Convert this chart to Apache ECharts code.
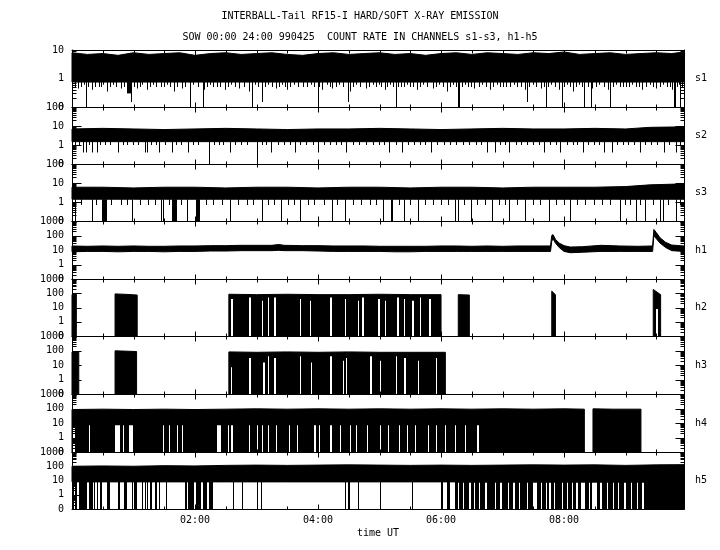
<!DOCTYPE html>
<html>
<head>
<meta charset="utf-8">
<script src="https://cdn.jsdelivr.net/npm/echarts@6/dist/echarts.min.js"></script>
<style>
  html, body { margin: 0; padding: 0; background: #fff; }
  #chart { width: 720px; height: 550px; }
</style>
</head>
<body>
<div id="chart"></div>
<script>
// time axis in hours UT, count rates in counts/s (0 is drawn one decade under 1)
const tMax = 9.95;
const channels = ['s1', 's2', 's3', 'h1', 'h2', 'h3', 'h4', 'h5'];
const topDecade = [1, 2, 2, 3, 3, 3, 3, 3]; // 10, 100, 100, 1000 ...

// band blocks: [t, low, high]
const s1Band = [[
  [0, 0.75, 8], [0.25, 0.75, 7], [0.5, 0.75, 7.5], [0.75, 0.75, 6.5], [1, 0.75, 8], [1.25, 0.75, 7],
  [1.5, 0.75, 7.5], [1.75, 0.75, 8], [2, 0.75, 6.5], [2.25, 0.75, 7.5], [2.5, 0.75, 8], [2.75, 0.75, 7],
  [3, 0.75, 7.5], [3.25, 0.75, 8], [3.5, 0.75, 7], [3.75, 0.75, 6.5], [4, 0.75, 7.5], [4.25, 0.75, 8],
  [4.5, 0.75, 7], [4.75, 0.75, 7.5], [5, 0.75, 8], [5.25, 0.75, 7], [5.5, 0.75, 7.5], [5.75, 0.75, 6.5],
  [6, 0.75, 7.5], [6.25, 0.75, 8], [6.5, 0.75, 7], [6.75, 0.75, 8], [7, 0.75, 7.5], [7.25, 0.75, 7],
  [7.5, 0.75, 8], [7.75, 0.75, 7.5], [8, 0.75, 8.5], [8.25, 0.75, 7], [8.5, 0.75, 7.5], [8.75, 0.75, 8],
  [9, 0.75, 7], [9.25, 0.75, 7.5], [9.5, 0.75, 8], [9.75, 0.75, 7.5], [9.95, 0.75, 8.5]
]];
// drops under the band: [t0, t1, low]
const s1Drops = [
  [0.10, 0.10, 0.45], [0.20, 0.20, 0.6], [0.33, 0.33, 0.4], [0.44, 0.44, 0.5], [0.52, 0.52, 0.6], [0.57, 0.57, 0.35],
  [0.68, 0.68, 0.6], [0.80, 0.80, 0.45], [0.91, 0.96, 0.3], [1.07, 1.07, 0.45], [1.15, 1.15, 0.6], [1.22, 1.22, 0.4],
  [1.32, 1.32, 0.6], [1.46, 1.46, 0.5], [1.55, 1.55, 0.6], [1.66, 1.66, 0.35], [1.79, 1.79, 0.45], [1.98, 1.98, 0.6],
  [2.16, 2.16, 0.4], [2.25, 2.25, 0.6], [2.36, 2.36, 0.5], [2.50, 2.50, 0.4], [2.60, 2.60, 0.6], [2.73, 2.73, 0.45],
  [2.88, 2.88, 0.35], [2.98, 2.98, 0.6], [3.09, 3.11, 0.3], [3.20, 3.20, 0.6], [3.32, 3.32, 0.45], [3.42, 3.42, 0.6],
  [3.51, 3.51, 0.4], [3.62, 3.62, 0.6], [3.77, 3.77, 0.5], [3.90, 3.90, 0.6], [4.08, 4.08, 0.4], [4.15, 4.15, 0.6],
  [4.24, 4.24, 0.45], [4.35, 4.35, 0.6], [4.52, 4.52, 0.35], [4.62, 4.62, 0.6], [4.78, 4.78, 0.45], [4.90, 4.90, 0.6],
  [5.00, 5.00, 0.6], [5.09, 5.09, 0.4], [5.18, 5.18, 0.6], [5.35, 5.35, 0.5], [5.45, 5.45, 0.6], [5.61, 5.61, 0.4],
  [5.72, 5.72, 0.6], [5.87, 5.87, 0.45], [5.97, 5.97, 0.6], [6.10, 6.10, 0.35], [6.20, 6.20, 0.6], [6.40, 6.40, 0.6],
  [6.55, 6.55, 0.45], [6.68, 6.68, 0.6], [6.81, 6.81, 0.4], [6.92, 6.92, 0.6], [7.07, 7.07, 0.5], [7.20, 7.20, 0.6],
  [7.37, 7.37, 0.4], [7.50, 7.50, 0.6], [7.63, 7.63, 0.45], [7.80, 7.80, 0.6], [7.93, 7.93, 0.4], [8.05, 8.05, 0.6],
  [8.16, 8.16, 0.35], [8.25, 8.25, 0.6], [8.46, 8.46, 0.45], [8.58, 8.58, 0.6], [8.72, 8.72, 0.4], [8.85, 8.85, 0.6],
  [9.02, 9.02, 0.5], [9.12, 9.12, 0.6], [9.28, 9.28, 0.4], [9.40, 9.40, 0.6], [9.51, 9.51, 0.45], [9.62, 9.62, 0.6],
  [9.77, 9.77, 0.4], [9.88, 9.88, 0.6],
  [0.05, 0.05, 0.5], [0.15, 0.15, 0.5], [0.27, 0.27, 0.5], [0.38, 0.38, 0.5], [0.48, 0.48, 0.5], [0.62, 0.62, 0.5],
  [0.73, 0.73, 0.5], [0.86, 0.86, 0.5], [1.02, 1.02, 0.5], [1.11, 1.11, 0.5], [1.27, 1.27, 0.5], [1.38, 1.38, 0.5],
  [1.50, 1.50, 0.5], [1.60, 1.60, 0.5], [1.72, 1.72, 0.5], [1.85, 1.85, 0.5], [2.05, 2.05, 0.5], [2.20, 2.20, 0.5],
  [2.30, 2.30, 0.5], [2.42, 2.42, 0.5], [2.55, 2.55, 0.5], [2.66, 2.66, 0.5], [2.80, 2.80, 0.5], [3.03, 3.03, 0.5],
  [3.15, 3.15, 0.5], [3.26, 3.26, 0.5], [3.37, 3.37, 0.5], [3.47, 3.47, 0.5], [3.56, 3.56, 0.5], [3.68, 3.68, 0.5],
  [3.83, 3.83, 0.5], [3.95, 3.95, 0.5], [4.03, 4.03, 0.5], [4.20, 4.20, 0.5], [4.30, 4.30, 0.5], [4.41, 4.41, 0.5],
  [4.57, 4.57, 0.5], [4.69, 4.69, 0.5], [4.84, 4.84, 0.5], [4.95, 4.95, 0.5], [5.04, 5.04, 0.5], [5.13, 5.13, 0.5],
  [5.23, 5.23, 0.5], [5.31, 5.31, 0.5], [5.40, 5.40, 0.5], [5.50, 5.50, 0.5], [5.56, 5.56, 0.5], [5.66, 5.66, 0.5],
  [5.78, 5.78, 0.5], [5.92, 5.92, 0.5], [6.04, 6.04, 0.5], [6.15, 6.15, 0.5], [6.25, 6.25, 0.5], [6.35, 6.35, 0.5],
  [6.45, 6.45, 0.5], [6.50, 6.50, 0.5], [6.62, 6.62, 0.5], [6.74, 6.74, 0.5], [6.86, 6.86, 0.5], [6.97, 6.97, 0.5],
  [7.02, 7.02, 0.5], [7.13, 7.13, 0.5], [7.25, 7.25, 0.5], [7.31, 7.31, 0.5], [7.44, 7.44, 0.5], [7.56, 7.56, 0.5],
  [7.68, 7.68, 0.5], [7.75, 7.75, 0.5], [7.86, 7.86, 0.5], [8.00, 8.00, 0.5], [8.10, 8.10, 0.5], [8.21, 8.21, 0.5],
  [8.30, 8.30, 0.5], [8.39, 8.39, 0.5], [8.52, 8.52, 0.5], [8.65, 8.65, 0.5], [8.80, 8.80, 0.5], [8.92, 8.92, 0.5],
  [8.97, 8.97, 0.5], [9.07, 9.07, 0.5], [9.18, 9.18, 0.5], [9.23, 9.23, 0.5], [9.34, 9.34, 0.5], [9.45, 9.45, 0.5],
  [9.57, 9.57, 0.5], [9.68, 9.68, 0.5], [9.73, 9.73, 0.5], [9.84, 9.84, 0.5], [9.92, 9.92, 0.5],
  [0.24, 0.24, 0], [1.92, 1.92, 0], [2.13, 2.15, 0], [2.93, 2.93, 0], [4.00, 4.00, 0], [5.27, 5.27, 0],
  [6.29, 6.31, 0], [7.71, 7.71, 0], [7.97, 7.97, 0], [8.34, 8.34, 0], [8.44, 8.44, 0], [8.76, 8.76, 0],
  [9.79, 9.82, 0], [9.89, 9.89, 0], [0.96, 0.96, 0.15], [3.09, 3.09, 0.15], [4.50, 4.50, 0.15], [7.40, 7.40, 0.15]
];

const s2Band = [[
  [0, 1.5, 7], [0.5, 1.5, 7.5], [1, 1.5, 7], [1.5, 1.5, 6.5], [2, 1.5, 7], [2.5, 1.5, 7.5], [3, 1.5, 7],
  [3.5, 1.5, 6.5], [4, 1.5, 7], [4.5, 1.5, 7], [5, 1.5, 7.5], [5.5, 1.5, 7], [6, 1.5, 6.5], [6.5, 1.5, 7],
  [7, 1.5, 7.5], [7.5, 1.5, 7], [8, 1.5, 7], [8.5, 1.5, 7.5], [9, 1.5, 7], [9.4, 1.5, 8.5], [9.95, 1.5, 9]
]];
const s2Drops = [
  [0.05, 0.05, 1], [0.12, 0.12, 1], [0.28, 0.28, 1], [0.47, 0.47, 1], [0.55, 0.55, 1], [0.62, 0.62, 1],
  [0.83, 0.83, 1], [0.90, 0.90, 1], [1.00, 1.00, 1], [1.08, 1.08, 1], [1.30, 1.30, 1], [1.37, 1.37, 1],
  [1.52, 1.52, 1], [1.70, 1.70, 1], [1.78, 1.78, 1], [1.97, 1.97, 1], [2.05, 2.05, 1], [2.31, 2.31, 1],
  [2.40, 2.40, 1], [2.47, 2.47, 1], [2.66, 2.66, 1], [2.75, 2.75, 1], [2.85, 2.85, 1], [3.10, 3.10, 1],
  [3.17, 3.17, 1], [3.35, 3.35, 1], [3.45, 3.45, 1], [3.55, 3.55, 1], [3.72, 3.72, 1], [3.82, 3.82, 1],
  [3.92, 3.92, 1], [4.10, 4.10, 1], [4.20, 4.20, 1], [4.30, 4.30, 1], [4.38, 4.38, 1], [4.58, 4.58, 1],
  [4.68, 4.68, 1], [4.78, 4.78, 1], [4.90, 4.90, 1], [5.00, 5.00, 1], [5.08, 5.08, 1], [5.28, 5.28, 1],
  [5.47, 5.47, 1], [5.57, 5.57, 1], [5.66, 5.66, 1], [5.75, 5.75, 1], [5.95, 5.95, 1], [6.05, 6.05, 1],
  [6.15, 6.15, 1], [6.25, 6.25, 1], [6.36, 6.36, 1], [6.47, 6.47, 1], [6.57, 6.57, 1], [6.66, 6.66, 1],
  [6.97, 6.97, 1], [7.05, 7.05, 1], [7.22, 7.22, 1], [7.31, 7.31, 1], [7.40, 7.40, 1], [7.50, 7.50, 1],
  [7.60, 7.60, 1], [7.78, 7.78, 1], [7.87, 7.87, 1], [8.05, 8.05, 1], [8.15, 8.15, 1], [8.22, 8.22, 1],
  [8.40, 8.40, 1], [8.50, 8.50, 1], [8.58, 8.58, 1], [8.87, 8.87, 1], [8.96, 8.96, 1], [9.05, 9.05, 1],
  [9.15, 9.15, 1], [9.33, 9.33, 1], [9.42, 9.42, 1], [9.52, 9.52, 1], [9.72, 9.72, 1], [9.90, 9.90, 1],
  [0.18, 0.18, 0.4], [0.24, 0.24, 0.4], [0.34, 0.34, 0.4], [0.41, 0.41, 0.4], [0.75, 0.75, 0.4], [1.19, 1.19, 0.4],
  [1.22, 1.22, 0.4], [1.43, 1.43, 0.4], [1.64, 1.64, 0.4], [1.89, 1.89, 0.4], [2.57, 2.57, 0.4], [3.25, 3.25, 0.4],
  [3.63, 3.63, 0.4], [4.00, 4.00, 0.4], [4.47, 4.47, 0.4], [5.17, 5.17, 0.4], [5.38, 5.38, 0.4], [5.85, 5.85, 0.4],
  [6.75, 6.75, 0.4], [6.89, 6.89, 0.4], [7.12, 7.12, 0.4], [7.69, 7.69, 0.4], [7.95, 7.95, 0.4], [8.31, 8.31, 0.4],
  [8.65, 8.65, 0.4], [8.78, 8.78, 0.4], [9.24, 9.24, 0.4], [9.63, 9.63, 0.4], [9.82, 9.82, 0.4],
  [2.23, 2.23, 0], [3.02, 3.02, 0.12]
];

const s3Band = [[
  [0, 1.4, 6], [0.5, 1.4, 6], [1, 1.4, 5.5], [1.5, 1.4, 6], [2, 1.4, 6], [2.5, 1.4, 5.5], [3, 1.4, 6],
  [3.5, 1.4, 6], [4, 1.4, 5.5], [4.5, 1.4, 6], [5, 1.4, 6], [5.5, 1.4, 5.5], [6, 1.4, 6], [6.5, 1.4, 6],
  [7, 1.4, 5.5], [7.5, 1.4, 6], [8, 1.4, 6], [8.5, 1.4, 6], [9, 1.4, 6.5], [9.4, 1.4, 8], [9.95, 1.4, 9]
]];
const s3Drops = [
  [0.15, 0.15, 0.7], [0.40, 0.40, 0.7], [0.65, 0.65, 0.7], [0.80, 0.80, 0.7], [0.90, 0.90, 0.7], [1.12, 1.12, 0.7],
  [1.25, 1.25, 0.7], [1.35, 1.35, 0.7], [1.58, 1.58, 0.7], [1.78, 1.78, 0.7], [2.18, 2.18, 0.7], [2.30, 2.30, 0.7],
  [2.45, 2.45, 0.7], [2.70, 2.70, 0.7], [2.85, 2.85, 0.7], [2.95, 2.95, 0.7], [3.20, 3.20, 0.7], [3.30, 3.30, 0.7],
  [3.52, 3.52, 0.7], [3.62, 3.62, 0.7], [3.85, 3.85, 0.7], [3.95, 3.95, 0.7], [4.10, 4.10, 0.7], [4.32, 4.32, 0.7],
  [4.58, 4.58, 0.7], [4.70, 4.70, 0.7], [4.85, 4.85, 0.7], [4.95, 4.95, 0.7], [5.32, 5.32, 0.7], [5.50, 5.50, 0.7],
  [5.75, 5.75, 0.7], [5.88, 5.88, 0.7], [6.00, 6.00, 0.7], [6.12, 6.12, 0.7], [6.38, 6.38, 0.7], [6.60, 6.60, 0.7],
  [6.72, 6.72, 0.7], [6.95, 6.95, 0.7], [7.05, 7.05, 0.7], [7.25, 7.25, 0.7], [7.50, 7.50, 0.7], [7.62, 7.62, 0.7],
  [7.88, 7.88, 0.7], [8.00, 8.00, 0.7], [8.22, 8.22, 0.7], [8.35, 8.35, 0.7], [8.50, 8.50, 0.7], [8.62, 8.62, 0.7],
  [8.75, 8.75, 0.7], [9.00, 9.00, 0.7], [9.08, 9.08, 0.7], [9.25, 9.25, 0.7], [9.45, 9.45, 0.7], [9.70, 9.70, 0.7],
  [9.90, 9.90, 0.7],
  [0.05, 0.05, 0], [0.33, 0.33, 0], [0.50, 0.57, 0], [0.98, 0.98, 0], [1.45, 1.45, 0], [1.48, 1.48, 0],
  [1.64, 1.71, 0], [1.87, 1.87, 0], [2.03, 2.08, 0], [2.57, 2.57, 0], [3.09, 3.09, 0], [3.40, 3.40, 0],
  [3.71, 3.71, 0], [4.24, 4.24, 0], [4.44, 4.44, 0], [5.06, 5.06, 0], [5.20, 5.22, 0], [5.41, 5.41, 0],
  [5.63, 5.63, 0], [6.23, 6.23, 0], [6.28, 6.28, 0], [6.49, 6.49, 0], [6.83, 6.83, 0], [7.12, 7.12, 0],
  [7.38, 7.38, 0], [7.77, 7.77, 0], [8.11, 8.11, 0], [8.91, 8.91, 0], [9.17, 9.17, 0], [9.32, 9.32, 0],
  [9.56, 9.56, 0], [9.61, 9.61, 0], [9.82, 9.82, 0]
];

const h1Band = [[
  [0, 7.5, 19], [0.25, 8, 18], [0.5, 8, 19], [0.75, 7.5, 18], [1, 8, 19], [1.25, 8, 18], [1.5, 7.5, 18],
  [1.75, 8, 19], [2, 8, 19], [2.25, 8.5, 20], [2.5, 8.5, 20], [2.75, 9, 21], [3, 9, 21], [3.25, 9, 21],
  [3.36, 9.5, 24], [3.45, 9, 21], [3.75, 9, 20], [4, 8.5, 20], [4.25, 8, 19], [4.5, 8, 19], [4.75, 8, 19],
  [5, 8, 18], [5.25, 7.5, 18], [5.5, 7.5, 18], [5.75, 8, 18], [6, 8, 19], [6.25, 8, 19], [6.5, 8, 18],
  [6.75, 8, 19], [7, 8, 18], [7.25, 8, 19], [7.5, 8, 19], [7.78, 8, 19], [7.80, 40, 100], [7.82, 60, 115],
  [7.86, 30, 55], [7.92, 15, 30], [8.00, 8, 20], [8.10, 6.5, 16], [8.30, 7, 17], [8.60, 8, 21], [8.90, 8, 19],
  [9.20, 8, 18], [9.44, 8, 19], [9.46, 100, 260], [9.50, 60, 160], [9.56, 30, 70], [9.65, 15, 34],
  [9.75, 9, 22], [9.95, 8, 19]
]];

const h2Band = [
  [[0, 0, 80], [0.07, 0, 80]],
  [[0.70, 0, 90], [0.85, 0, 85], [1.06, 0, 75]],
  [[2.55, 0, 85], [3, 0, 80], [3.5, 0, 85], [4, 0, 80], [4.5, 0, 80], [5, 0, 85], [5.5, 0, 80], [6.00, 0, 80]],
  [[6.28, 0, 80], [6.46, 0, 75]],
  [[7.80, 0, 140], [7.86, 0, 80]],
  [[9.45, 0, 185], [9.57, 0, 80]]
];
// white gaps: [t0, t1, high]
const h2Holes = [
  [2.60, 2.61, 40], [2.89, 2.91, 50], [3.09, 3.10, 30], [3.19, 3.21, 50], [3.30, 3.32, 50], [3.71, 3.73, 40],
  [3.87, 3.88, 30], [4.20, 4.23, 50], [4.44, 4.46, 40], [4.65, 4.66, 30], [4.73, 4.75, 50], [4.98, 5.00, 40],
  [5.09, 5.10, 30], [5.30, 5.32, 50], [5.41, 5.42, 40], [5.54, 5.56, 30], [5.66, 5.67, 50], [5.82, 5.84, 40],
  [9.50, 9.52, 8]
];

const h3Band = [
  [[0, 0, 80], [0.11, 0, 80]],
  [[0.70, 0, 95], [1.05, 0, 85]],
  [[2.55, 0, 80], [3, 0, 75], [3.5, 0, 80], [4, 0, 75], [4.5, 0, 80], [5, 0, 75], [5.5, 0, 75], [6.07, 0, 75]]
];
const h3Holes = [
  [2.59, 2.60, 7], [2.89, 2.91, 30], [3.12, 3.13, 15], [3.19, 3.21, 40], [3.30, 3.32, 30], [3.71, 3.73, 40],
  [3.89, 3.90, 15], [4.20, 4.22, 40], [4.41, 4.42, 20], [4.46, 4.47, 30], [4.86, 4.88, 40], [5.01, 5.02, 20],
  [5.27, 5.29, 40], [5.41, 5.43, 30], [5.63, 5.64, 20], [5.92, 5.94, 30]
];

const h4Band = [
  [[0, 0, 85], [0.5, 0, 90], [1, 0, 85], [1.5, 0, 90], [2, 0, 85], [2.5, 0, 90], [3, 0, 95], [3.5, 0, 90],
   [4, 0, 95], [4.5, 0, 90], [5, 0, 95], [5.5, 0, 90], [6, 0, 95], [6.5, 0, 90], [7, 0, 95], [7.5, 0, 90],
   [8, 0, 95], [8.33, 0, 90]],
  [[8.47, 0, 95], [8.8, 0, 90], [9.25, 0, 90]]
];
const h4Holes = [
  [0.02, 0.05, 5], [0.28, 0.29, 7], [0.70, 0.78, 7], [0.83, 0.84, 7], [0.94, 0.99, 7], [1.48, 1.49, 7],
  [1.59, 1.60, 7], [1.72, 1.73, 7], [1.80, 1.81, 7], [2.37, 2.42, 7], [2.54, 2.55, 7], [2.60, 2.61, 7],
  [2.89, 2.90, 7], [3.01, 3.02, 7], [3.09, 3.10, 7], [3.19, 3.21, 7], [3.32, 3.33, 7], [3.54, 3.55, 7],
  [3.66, 3.67, 7], [3.95, 3.96, 7], [4.03, 4.04, 7], [4.20, 4.22, 7], [4.36, 4.37, 7], [4.52, 4.53, 7],
  [4.63, 4.64, 7], [4.80, 4.81, 7], [5.01, 5.03, 7], [5.14, 5.15, 7], [5.33, 5.34, 7], [5.46, 5.47, 7],
  [5.59, 5.60, 7], [5.79, 5.80, 7], [5.93, 5.94, 7], [6.07, 6.08, 7], [6.23, 6.24, 7], [6.39, 6.40, 7],
  [6.60, 6.61, 7]
];

const h5Band = [[
  [0, 8, 100], [0.5, 8, 105], [1, 8, 100], [1.5, 8, 110], [2, 8, 105], [2.5, 8, 115], [3, 8, 120],
  [3.5, 8, 115], [4, 8, 120], [4.5, 8, 125], [5, 8, 120], [5.5, 8, 115], [6, 8, 120], [6.5, 8, 115],
  [7, 8, 120], [7.5, 8, 125], [8, 8, 120], [8.5, 8, 125], [9, 8, 115], [9.5, 8, 125], [9.95, 8, 130]
]];
const h5Drops = [
  [0.02, 0.02, 0], [0.05, 0.05, 0], [0.08, 0.08, 0], [0.13, 0.24, 0], [0.29, 0.34, 0], [0.37, 0.38, 0],
  [0.41, 0.42, 0], [0.46, 0.49, 0], [0.57, 0.62, 0], [0.75, 0.78, 0], [0.86, 0.89, 0], [0.98, 0.98, 0],
  [1.02, 1.06, 0], [1.14, 1.14, 0], [1.19, 1.19, 0], [1.22, 1.22, 0], [1.27, 1.27, 0], [1.30, 1.30, 0],
  [1.35, 1.35, 0], [1.38, 1.38, 0], [1.43, 1.43, 0], [1.54, 1.54, 0], [1.85, 1.87, 0], [1.90, 1.98, 0],
  [2.02, 2.10, 0], [2.14, 2.20, 0], [2.24, 2.29, 0], [2.62, 2.62, 0], [2.78, 2.78, 0], [3.02, 3.03, 0],
  [3.08, 3.09, 0], [4.44, 4.46, 0], [4.50, 4.52, 0], [4.65, 4.65, 0], [5.02, 5.02, 0], [5.54, 5.54, 0],
  [6.00, 6.03, 0], [6.10, 6.15, 0], [6.23, 9.95, 0]
];
const h5Holes = [
  [6.29, 6.30, 7], [6.37, 6.38, 7], [6.46, 6.48, 7], [6.54, 6.55, 7], [6.63, 6.64, 7], [6.72, 6.74, 7],
  [6.88, 6.90, 7], [6.97, 6.99, 7], [7.09, 7.10, 7], [7.18, 7.20, 7], [7.28, 7.29, 7], [7.40, 7.42, 7],
  [7.50, 7.56, 7], [7.63, 7.64, 7], [7.71, 7.72, 7], [7.77, 7.78, 7], [7.85, 7.86, 7], [7.97, 7.98, 7],
  [8.05, 8.06, 7], [8.13, 8.14, 7], [8.21, 8.22, 7], [8.29, 8.34, 7], [8.41, 8.42, 7], [8.47, 8.53, 7],
  [8.60, 8.61, 7], [8.70, 8.71, 7], [8.80, 8.81, 7], [8.88, 8.89, 7], [8.99, 9.00, 7], [9.09, 9.10, 7],
  [9.20, 9.21, 7], [9.28, 9.30, 7]
];

const panels = [
  { band: s1Band, floor: 0.75, drops: s1Drops, holes: [] },
  { band: s2Band, floor: 1.5, drops: s2Drops, holes: [] },
  { band: s3Band, floor: 1.4, drops: s3Drops, holes: [] },
  { band: h1Band, floor: 8, drops: [], holes: [] },
  { band: h2Band, floor: 0, drops: [], holes: h2Holes },
  { band: h3Band, floor: 0, drops: [], holes: h3Holes },
  { band: h4Band, floor: 0, drops: [], holes: h4Holes },
  { band: h5Band, floor: 8, drops: h5Drops, holes: h5Holes }
];

const FONT = 'DejaVu Sans Mono';
const edges = [50, 107, 164, 221, 279, 336, 394, 452, 509]; // panel borders in px

// counts -> log10, zero drawn at -1
function tv(v) { return v <= 0 ? -1 : Math.log10(v); }

function rectItem(api, t0, t1, lo, hi, fill) {
  const p0 = api.coord([t0, tv(hi)]);
  const p1 = api.coord([t1, tv(lo)]);
  const x = Math.floor(p0[0]);
  const w = Math.max(1, Math.round(p1[0]) - x);
  return { type: 'rect', shape: { x: x, y: p0[1], width: w, height: p1[1] - p0[1] }, style: { fill: fill } };
}

const grids = [], xAxes = [], yAxes = [], series = [];
const txt = { fontFamily: FONT, fontSize: 10, color: '#000' };
const blackLine = { show: true, onZero: false, lineStyle: { color: '#000', width: 1 } };

panels.forEach((p, i) => {
  const M = topDecade[i];
  const last = i === panels.length - 1;
  grids.push({ left: 72, right: 36, top: edges[i], height: edges[i + 1] - edges[i] });
  xAxes.push({
    gridIndex: i, type: 'value', position: 'bottom', min: 0, max: tMax, interval: 2,
    axisLine: blackLine, axisTick: { show: false }, splitLine: { show: false },
    axisLabel: last ? Object.assign({
      margin: 6, showMinLabel: false, showMaxLabel: false,
      formatter: v => (v < 10 ? '0' : '') + v + ':00'
    }, txt) : { show: false },
    name: last ? 'time UT' : '', nameLocation: 'middle', nameGap: 19, nameTextStyle: txt
  });
  xAxes.push({
    gridIndex: i, type: 'value', position: 'top', min: 0, max: tMax, interval: 2,
    axisLine: blackLine, axisTick: { show: false }, splitLine: { show: false }, axisLabel: { show: false }
  });
  yAxes.push({
    gridIndex: i, type: 'value', position: 'left', min: -1, max: M, interval: 1,
    axisLine: blackLine, axisTick: { show: false }, splitLine: { show: false },
    axisLabel: Object.assign({ margin: 8, formatter: v => v < 0 ? '0' : String(Math.round(Math.pow(10, v))) }, txt)
  });
  yAxes.push({
    gridIndex: i, type: 'value', position: 'right', min: -1, max: M, interval: 1,
    axisLine: blackLine, axisTick: { show: false }, splitLine: { show: false }, axisLabel: { show: false },
    name: channels[i], nameLocation: 'middle', nameRotate: 0, nameGap: 11,
    nameTextStyle: Object.assign({ align: 'left', fontSize: 11 }, txt)
  });

  const ax = { xAxisIndex: 2 * i, yAxisIndex: 2 * i, silent: true, animation: false };

  series.push(Object.assign({
    type: 'custom', z: 2,
    data: p.band.map((b, k) => [k, 0]),
    renderItem: (params, api) => {
      const b = p.band[params.dataIndex];
      const top = b.map(d => api.coord([d[0], tv(d[2])]));
      const bot = b.slice().reverse().map(d => api.coord([d[0], tv(d[1])]));
      return { type: 'polygon', shape: { points: top.concat(bot) }, style: { fill: '#000', stroke: '#000', lineWidth: 1 } };
    }
  }, ax));

  series.push(Object.assign({
    type: 'custom', z: 3, data: p.drops,
    renderItem: (params, api) => rectItem(api, api.value(0), api.value(1), api.value(2), p.floor, '#000')
  }, ax));

  series.push(Object.assign({
    type: 'custom', z: 4, data: p.holes,
    renderItem: (params, api) => rectItem(api, api.value(0), api.value(1), 0, api.value(2), '#fff')
  }, ax));

  // log ticks on both y borders, half-hour ticks on both x borders
  const ticks = [];
  for (let d = -1; d <= M; d++) ticks.push([0, d, 9]);
  for (let d = -1; d < M; d++) for (let k = 2; k <= 9; k++) ticks.push([0, d + Math.log10(k), 4]);
  for (let h = 1; h * 0.5 < tMax; h++) ticks.push([1, h * 0.5, h % 4 === 0 ? 5 : 3]);
  series.push(Object.assign({
    type: 'custom', z: 5, data: ticks,
    renderItem: (params, api) => {
      const kind = api.value(0), v = api.value(1), len = api.value(2);
      const st = { stroke: '#000', lineWidth: 1 };
      if (kind === 0) {
        const a = api.coord([0, v]), b = api.coord([tMax, v]);
        const y = Math.round(a[1]) + 0.5, xl = Math.round(a[0]) + 0.5, xr = Math.round(b[0]) + 0.5;
        return { type: 'group', children: [
          { type: 'line', shape: { x1: xl, y1: y, x2: xl + len, y2: y }, style: st },
          { type: 'line', shape: { x1: xr - len, y1: y, x2: xr, y2: y }, style: st }
        ] };
      }
      const a = api.coord([v, -1]), b = api.coord([v, M]);
      const x = Math.round(a[0]) + 0.5, yb = Math.round(a[1]) + 0.5, yt = Math.round(b[1]) + 0.5;
      return { type: 'group', children: [
        { type: 'line', shape: { x1: x, y1: yb, x2: x, y2: yb - len }, style: st },
        { type: 'line', shape: { x1: x, y1: yt, x2: x, y2: yt + len }, style: st }
      ] };
    }
  }, ax));
});

const chart = echarts.init(document.getElementById('chart'));
chart.setOption({
  backgroundColor: '#fff',
  animation: false,
  title: [
    { text: 'INTERBALL-Tail RF15-I HARD/SOFT X-RAY EMISSION', left: 'center', top: 6,
      textStyle: { fontFamily: FONT, fontSize: 10, fontWeight: 'normal', color: '#000' } },
    { text: 'SOW 00:00 24:00 990425  COUNT RATE IN CHANNELS s1-s3, h1-h5', left: 'center', top: 27,
      textStyle: { fontFamily: FONT, fontSize: 10, fontWeight: 'normal', color: '#000' } }
  ],
  grid: grids,
  xAxis: xAxes,
  yAxis: yAxes,
  series: series
});
</script>
</body>
</html>
